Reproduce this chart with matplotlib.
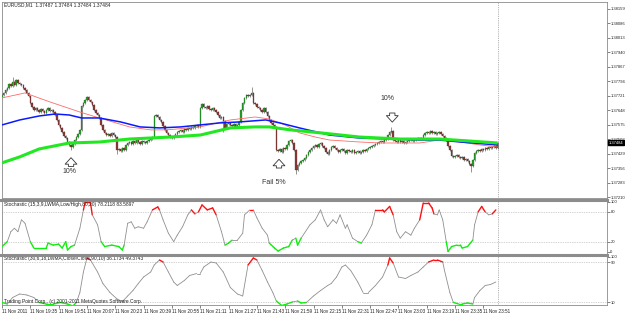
import numpy as np
import matplotlib
matplotlib.use("Agg")
import matplotlib.pyplot as plt
from matplotlib.collections import LineCollection
from matplotlib.lines import Line2D
from matplotlib.transforms import blended_transform_factory

plt.rcParams['font.family'] = ['Liberation Sans', 'DejaVu Sans']

# ==========================================
# DATA  (EURUSD M1, bar 0 = 11 Nov 2011 19:19)
# ==========================================
first_open = 1.37714
close_prices = [
    1.37724, 1.37734, 1.37749, 1.37759, 1.37779, 1.37769, 1.37789, 1.37774, 1.37799, 1.37784,
    1.37779, 1.37774, 1.37759, 1.37749, 1.37734, 1.37719, 1.37683, 1.37663, 1.37648, 1.37658,
    1.37648, 1.37638, 1.37653, 1.37643, 1.37633, 1.37648, 1.37658, 1.37643, 1.37648, 1.37638,
    1.37623, 1.37598, 1.37573, 1.37558, 1.37538, 1.37517, 1.37507, 1.37487, 1.37472, 1.37462,
    1.37477, 1.37497, 1.37512, 1.37527, 1.37548, 1.37668, 1.37683, 1.37699, 1.37714, 1.37699,
    1.37689, 1.37673, 1.37648, 1.37633, 1.37623, 1.37608, 1.37573, 1.37548, 1.37533, 1.37522,
    1.37527, 1.37517, 1.37533, 1.37522, 1.37512, 1.37447, 1.37452, 1.37442, 1.37457, 1.37447,
    1.37472, 1.37482, 1.37487, 1.37477, 1.37492, 1.37482, 1.37497, 1.37487, 1.37477, 1.37492,
    1.37487, 1.37482, 1.37492, 1.37497, 1.37502, 1.37512, 1.37618, 1.37623, 1.37613, 1.37598,
    1.37588, 1.37568, 1.37548, 1.37533, 1.37522, 1.37512, 1.37507, 1.37517, 1.37527, 1.37538,
    1.37543, 1.37548, 1.37538, 1.37553, 1.37548, 1.37558, 1.37553, 1.37563, 1.37558, 1.37568,
    1.37573, 1.37563, 1.37658, 1.37678, 1.37663, 1.37658, 1.37668, 1.37653, 1.37648, 1.37658,
    1.37648, 1.37638, 1.37623, 1.37608, 1.37613, 1.37593, 1.37558, 1.37578, 1.37583, 1.37573,
    1.37568, 1.37578, 1.37563, 1.37573, 1.37588, 1.37648, 1.37683, 1.37709, 1.37724, 1.37719,
    1.37724, 1.37734, 1.37683, 1.37678, 1.37663, 1.37658, 1.37648, 1.37638, 1.37658, 1.37638,
    1.37618, 1.37598, 1.37583, 1.37573, 1.37563, 1.37447, 1.37442, 1.37452, 1.37437, 1.37457,
    1.37452, 1.37472, 1.37492, 1.37497, 1.37482, 1.37447, 1.37346, 1.37371, 1.37382, 1.37392,
    1.37397, 1.37407, 1.37422, 1.37437, 1.37447, 1.37457, 1.37467, 1.37472, 1.37462, 1.37477,
    1.37482, 1.37467, 1.37457, 1.37437, 1.37427, 1.37447, 1.37462, 1.37467, 1.37457, 1.37447,
    1.37437, 1.37447, 1.37452, 1.37442, 1.37432, 1.37447, 1.37442, 1.37437, 1.37447, 1.37432,
    1.37437, 1.37442, 1.37432, 1.37437, 1.37447, 1.37442, 1.37452, 1.37457, 1.37462, 1.37467,
    1.37472, 1.37477, 1.37482, 1.37487, 1.37492, 1.37487, 1.37497, 1.37502, 1.37522, 1.37538,
    1.37543, 1.37497, 1.37492, 1.37487, 1.37497, 1.37487, 1.37492, 1.37482, 1.37487, 1.37492,
    1.37497, 1.37502, 1.37492, 1.37497, 1.37502, 1.37507, 1.37502, 1.37507, 1.37522, 1.37533,
    1.37538, 1.37533, 1.37543, 1.37533, 1.37538, 1.37527, 1.37533, 1.37538, 1.37527, 1.37517,
    1.37507, 1.37497, 1.37467, 1.37447, 1.37417, 1.37412, 1.37417, 1.37422, 1.37412, 1.37407,
    1.37412, 1.37397, 1.37402, 1.37392, 1.37376, 1.37366, 1.37397, 1.37432, 1.37442, 1.37447,
    1.37442, 1.37452, 1.37447, 1.37457, 1.37452, 1.37462, 1.37457, 1.37462, 1.37467, 1.37457,
    1.37484,
]
high_spikes = {6: 1.37809, 141: 1.37759, 220: 1.37558}
low_spikes = {39: 1.37452, 65: 1.37432, 125: 1.37543, 166: 1.37331, 265: 1.37341}

# moving averages, sampled (bar, price)
ma_red = [(0, 1.37709), (13, 1.37734), (27, 1.37689), (44, 1.37638), (55, 1.37608), (72, 1.37563),
          (84, 1.37548), (93, 1.37548), (112, 1.37563), (129, 1.37598), (143, 1.37613), (151, 1.37603),
          (160, 1.37573), (168, 1.37533), (177, 1.37512), (185, 1.37497), (202, 1.37487), (214, 1.37482),
          (225, 1.37482), (236, 1.37482), (247, 1.37497), (259, 1.37487), (270, 1.37472), (280, 1.37462)]
ma_blue = [(0, 1.37573), (10, 1.37598), (21, 1.37618), (30, 1.37628), (38, 1.37623), (45, 1.37608),
           (55, 1.37608), (67, 1.37588), (78, 1.37563), (89, 1.37558), (101, 1.37563), (112, 1.37573),
           (123, 1.37583), (134, 1.37588), (149, 1.37598), (157, 1.37583), (168, 1.37558), (185, 1.37522),
           (202, 1.37507), (219, 1.37502), (236, 1.37497), (247, 1.37497), (259, 1.37487), (280, 1.37472)]
ma_green = [(0, 1.37382), (10, 1.37412), (21, 1.37452), (38, 1.37482), (55, 1.37487), (72, 1.37502),
            (95, 1.37512), (112, 1.37522), (129, 1.37558), (143, 1.37563), (151, 1.37563), (163, 1.37548),
            (180, 1.37533), (202, 1.37512), (225, 1.37502), (247, 1.37502), (264, 1.37492), (280, 1.37482)]

stoch1 = [(0, 10), (3, 20), (5, 40), (7, 47), (9, 40), (11, 64), (13, 57), (16, 20), (18, 7), (21, 7),
          (25, 7), (26, 17), (29, 13), (32, 15), (34, 7), (36, 20), (37, 3), (39, 10), (41, 13), (44, 47),
          (46, 84), (47, 100), (49, 100), (50, 98), (51, 74), (54, 54), (56, 20), (58, 10), (62, 13), (66, 10),
          (68, 3), (69, 13), (71, 57), (73, 60), (75, 47), (77, 50), (80, 47), (82, 60), (85, 84), (88, 90),
          (89, 84), (91, 64), (94, 37), (97, 20), (99, 33), (102, 50), (105, 74), (107, 84), (109, 76), (111, 80),
          (113, 94), (116, 84), (119, 88), (121, 74), (124, 40), (126, 13), (128, 17), (130, 23), (133, 23), (136, 37),
          (137, 74), (140, 84), (142, 84), (144, 68), (147, 47), (150, 33), (151, 17), (154, 7), (156, 1), (159, 7),
          (162, 10), (164, 23), (166, 27), (167, 13), (169, 27), (174, 54), (177, 64), (180, 84), (182, 64), (184, 50),
          (187, 64), (189, 57), (191, 74), (194, 47), (195, 54), (198, 27), (201, 20), (203, 17), (206, 33), (209, 54),
          (211, 84), (215, 84), (216, 80), (219, 91), (221, 74), (223, 40), (225, 27), (228, 40), (231, 33), (233, 47),
          (236, 64), (238, 98), (241, 98), (243, 88), (244, 76), (246, 74), (247, 84), (249, 64), (251, 20), (252, 0),
          (254, 10), (257, 13), (259, 13), (260, 7), (263, 10), (266, 23), (267, 54), (269, 80), (271, 91), (273, 80),
          (275, 74), (277, 76), (279, 84)]
stoch2 = [(0, 9), (3, 6), (6, 19), (10, 26), (14, 24), (18, 19), (21, 9), (25, 6), (29, 6), (33, 9),
          (37, 6), (40, 2), (42, 9), (44, 29), (46, 70), (48, 98), (50, 94), (54, 70), (57, 47), (61, 29),
          (65, 16), (68, 11), (71, 22), (74, 33), (77, 47), (80, 60), (84, 70), (86, 84), (89, 94), (91, 90),
          (94, 70), (97, 50), (99, 43), (103, 53), (106, 63), (110, 67), (112, 67), (114, 80), (118, 90), (121, 88),
          (125, 70), (129, 39), (133, 26), (136, 22), (137, 43), (139, 84), (142, 98), (144, 94), (147, 73), (150, 50),
          (153, 29), (155, 12), (158, 3), (161, 6), (164, 10), (167, 12), (169, 8), (172, 9), (176, 22), (180, 33),
          (184, 43), (186, 47), (189, 60), (192, 80), (194, 84), (197, 73), (201, 50), (204, 29), (207, 29), (211, 43),
          (215, 60), (218, 84), (219, 98), (221, 88), (224, 60), (228, 57), (231, 63), (235, 70), (238, 80), (241, 90),
          (244, 94), (246, 94), (249, 90), (250, 73), (253, 29), (255, 9), (258, 6), (260, 6), (263, 8), (266, 6),
          (267, 19), (270, 33), (273, 43), (276, 45), (279, 50)]

price_ticks = [1.38159, 1.38086, 1.38013, 1.37940, 1.37867, 1.37794, 1.37721,
               1.37648, 1.37575, 1.37502, 1.37429, 1.37356, 1.37283, 1.37210]
last_price = 1.37484
time_ticks = list(range(0, 273, 16))
time_labels = ['11 Nov 2011', '11 Nov 19:35', '11 Nov 19:51', '11 Nov 20:07', '11 Nov 20:23',
               '11 Nov 20:39', '11 Nov 20:55', '11 Nov 21:11', '11 Nov 21:27', '11 Nov 21:43',
               '11 Nov 21:59', '11 Nov 22:15', '11 Nov 22:31', '11 Nov 22:47', '11 Nov 23:03',
               '11 Nov 23:19', '11 Nov 23:35', '11 Nov 23:51']

# ==========================================
# FIGURE LAYOUT
# ==========================================
W, H = 625, 315
fig = plt.figure(figsize=(W / 100, H / 100), dpi=100)
fig.patch.set_facecolor('white')

def px_axes(top, bottom):
    return fig.add_axes([2 / W, 1 - bottom / H, 605 / W, (bottom - top) / H])

ax = px_axes(2, 198)
ax1 = px_axes(201, 254)
ax2 = px_axes(256, 305)

XMAX = 605 / 1.77
frame = '#8a8a8a'
small = 3.5
right_fs = 3.0
for a in (ax, ax1, ax2):
    a.set_xlim(0, XMAX)
    a.set_facecolor('white')
    for s in a.spines.values():
        s.set_color(frame)
        s.set_linewidth(0.6)
    a.yaxis.tick_right()
    a.tick_params(axis='y', length=1.8, width=0.4, pad=0.6, labelsize=right_fs, colors='#222222')
    a.tick_params(axis='x', length=0)
    a.set_xticks([])
    a.axvline(len(close_prices) - 1, color='#9a9a9a', lw=0.6, ls=(0, (1, 1.2)))

# ==========================================
# MAIN PANEL: candles + moving averages
# ==========================================
closes = np.array(close_prices)
opens = np.concatenate([[first_open], closes[:-1]])
highs = np.maximum(opens, closes)
lows = np.minimum(opens, closes)
for i, p in high_spikes.items():
    highs[i] = max(highs[i], p)
for i, p in low_spikes.items():
    lows[i] = min(lows[i], p)
xb = np.arange(len(closes))
up = closes >= opens
body = np.abs(closes - opens)
body = np.where(body < 0.00002, 0.00002, body)
bottoms = np.minimum(opens, closes)

wick = 0.00004
ax.vlines(xb, lows - wick, highs + wick, color='#5a5a5a', lw=0.45, zorder=2)
ax.bar(xb[up], body[up], bottom=bottoms[up], width=0.8, color='#22a022',
       edgecolor='#2b5a2b', linewidth=0.2, zorder=3)
ax.bar(xb[~up], body[~up], bottom=bottoms[~up], width=0.8, color='#8a3a34',
       edgecolor='#5a2a2a', linewidth=0.2, zorder=3)

for pts, col, lw in ((ma_red, '#ff6a6a', 0.6), (ma_blue, '#0a1aff', 1.1), (ma_green, '#22e822', 2.2)):
    ax.plot([p[0] for p in pts], [p[1] for p in pts], color=col, lw=lw, zorder=4,
            solid_capstyle='butt')

ax.set_ylim(1.37205, 1.38192)
ax.set_yticks(price_ticks)
ax.set_yticklabels([f'{p:.5f}' for p in price_ticks])

ax.text(2 / 605, 0.985, 'EURUSD,M1  1.37487 1.37484 1.37484 1.37484', transform=ax.transAxes,
        fontsize=small, va='center', ha='left', color='#222222')

tr = blended_transform_factory(ax.transAxes, ax.transData)
ax.text(1.003, last_price, '1.37484', transform=tr, fontsize=right_fs, color='white',
        va='center', ha='left', bbox=dict(fc='black', ec='black', pad=0.5), zorder=6, clip_on=False)

# annotations: hollow arrows + labels
arrow_kw = dict(arrowstyle='simple,head_length=0.55,head_width=1.0,tail_width=0.45',
                fc='white', ec='#333333', lw=0.6, mutation_scale=8.5)
ax.annotate('', xy=(39, 1.37422), xytext=(39, 1.37350), arrowprops=arrow_kw, zorder=5)
ax.text(38, 1.37338, '10%', fontsize=5, ha='center', va='center', color='#333333')
ax.annotate('', xy=(156.5, 1.37414), xytext=(156.5, 1.37342), arrowprops=arrow_kw, zorder=5)
ax.text(153.5, 1.37281, 'Fail 5%', fontsize=5, ha='center', va='center', color='#333333')
ax.annotate('', xy=(220.5, 1.37573), xytext=(220.5, 1.37647), arrowprops=arrow_kw, zorder=5)
ax.text(217.5, 1.37704, '10%', fontsize=5, ha='center', va='center', color='#333333')

# ==========================================
# STOCHASTIC PANELS
# ==========================================
def draw_stoch(a, pts, lo, hi):
    b = np.array([p[0] for p in pts], dtype=float)
    v = np.array([p[1] for p in pts], dtype=float)
    segs = np.stack([np.column_stack([b[:-1], v[:-1]]), np.column_stack([b[1:], v[1:]])], axis=1)
    mid = (v[:-1] + v[1:]) / 2
    cols = np.where(mid >= hi, '#ff1010', np.where(mid <= lo, '#10ee10', '#8f8f8f'))
    lws = np.where((mid >= hi) | (mid <= lo), 1.0, 0.6)
    a.add_collection(LineCollection(segs, colors=cols, linewidths=lws, capstyle='round', zorder=3))
    for lvl in (lo, hi):
        a.axhline(lvl, color='#a8a8a8', lw=0.5, ls=(0, (1, 1.5)), zorder=1)

draw_stoch(ax1, stoch1, 20, 80)
ax1.set_ylim(-5, 102)
ax1.set_yticks([0, 20, 80, 100])
ax1.set_yticklabels(['0', '20', '80', '100'])
ax1.text(2 / 605, 0.94, 'Stochastic (15,3,9,LWMA,Low/High,80,20) 78.2118 83.5897',
         transform=ax1.transAxes, fontsize=small, va='center', ha='left', color='#222222')

draw_stoch(ax2, stoch2, 10, 90)
ax2.set_ylim(4, 102)
ax2.set_yticks([10, 90, 100])
ax2.set_yticklabels(['10', '90', '100'])
ax2.text(2 / 605, 0.95, 'Stochastic (30,6,18,LWMA,Close/Close,90,10) 36.1734 49.3743',
         transform=ax2.transAxes, fontsize=small, va='center', ha='left', color='#222222')
ax2.text(2 / 605, 0.07, 'Trading Point Corp., (c) 2001-2011 MetaQuotes Software Corp.',
         transform=ax2.transAxes, fontsize=small, va='center', ha='left', color='#222222')

ax2.set_xticks(time_ticks)
ax2.set_xticklabels(time_labels, ha='left')
ax2.tick_params(axis='x', length=2, width=0.4, pad=1, labelsize=3.3, colors='#222222')

# thick panel separators
for yp in (199.5, 255):
    fig.add_artist(Line2D([0, 607 / W], [1 - yp / H, 1 - yp / H], transform=fig.transFigure,
                          color='#8c8c8c', lw=2.2))

fig.savefig('out.png', dpi=100)
